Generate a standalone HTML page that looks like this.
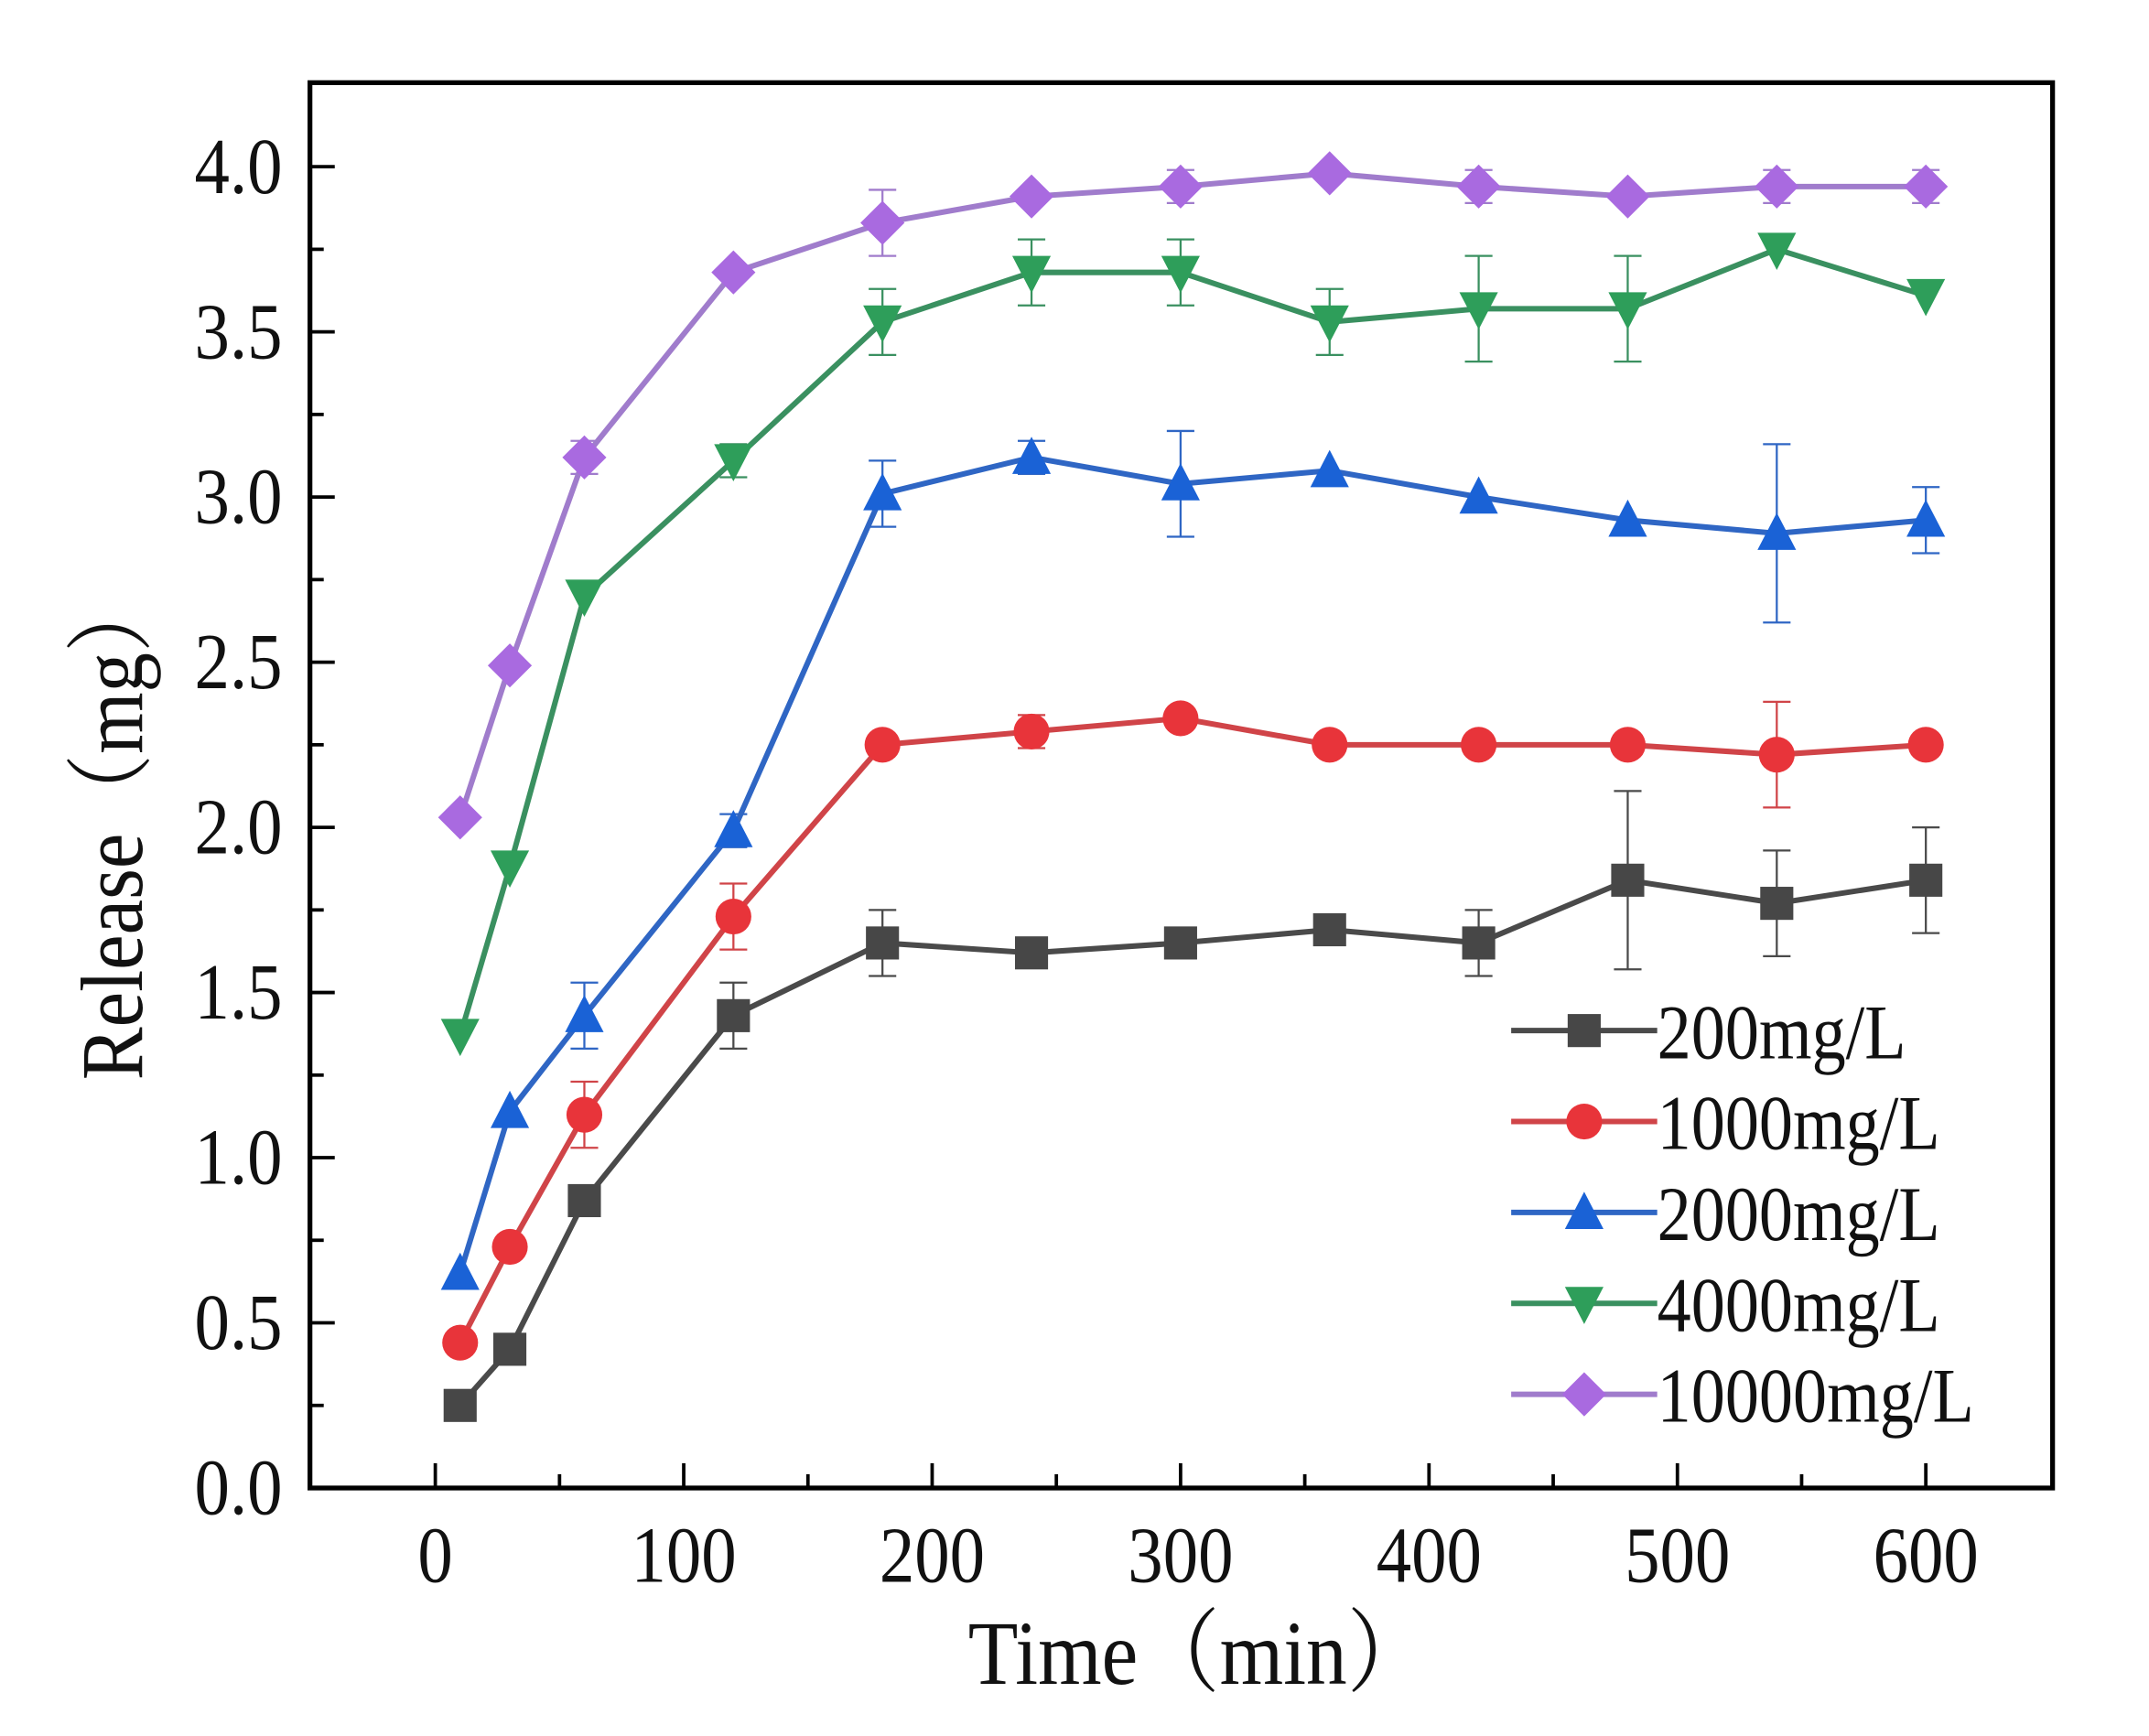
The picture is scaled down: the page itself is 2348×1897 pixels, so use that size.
<!DOCTYPE html>
<html><head><meta charset="utf-8"><style>html,body{margin:0;padding:0;background:#fff}svg{display:block}</style></head>
<body>
<svg id="s" xmlns="http://www.w3.org/2000/svg" width="2348" height="1897" viewBox="0 0 1560 1260" preserveAspectRatio="none" font-family="'Liberation Serif','Noto Serif CJK SC',serif">
<rect x="0" y="0" width="1560" height="1260" fill="#fff"/>
<g id="plot"></g>
<rect x="225" y="60" width="1265" height="1020" fill="none" stroke="#000" stroke-width="3.5"/>
<g id="axes" font-size="58" fill="#111"></g>
<g transform="translate(870,1222) scale(0.9,1)"><text x="0" y="0" font-size="66" text-anchor="middle" fill="#111">Time（min）</text></g>
<g transform="translate(103,600) rotate(-90) scale(0.9,1)"><text x="0" y="0" font-size="64" text-anchor="middle" fill="#111">Release（mg）</text></g>
<g id="leg" font-size="56" fill="#111"></g>
</svg>
<script>
var NS="http://www.w3.org/2000/svg";
function X(t){return 316+t*(1398-316)/600;}
function Y(v){return 1080-v*(1080-121)/4;}
function el(p,n,a,txt){var e=document.createElementNS(NS,n);for(var k in a)e.setAttribute(k,a[k]);if(txt!=null)e.textContent=txt;p.appendChild(e);return e;}
function tx(p,x,y,anchor,s){var g=el(p,'g',{transform:'translate('+x+','+y+') scale(0.88,1)'});el(g,'text',{x:0,y:0,'text-anchor':anchor},s);}
var ax=document.getElementById('axes');
for(var t=0;t<=600;t+=50){var maj=t%100==0;el(ax,'line',{x1:X(t),x2:X(t),y1:1080,y2:1080-(maj?18:10),stroke:'#000','stroke-width':2.5});if(maj)tx(ax,X(t),1148,'middle',String(t));}
for(var i=0;i<=16;i++){var v=i*0.25,maj=i%2==0;el(ax,'line',{x1:225,x2:225+(maj?18:10),y1:Y(v),y2:Y(v),stroke:'#000','stroke-width':2.5});if(maj)tx(ax,205,Y(v)+19,'end',v.toFixed(1));}
var xs=[10,30,60,120,180,240,300,360,420,480,540,600];
var S=[
{n:'200mg/L',c:'#474747',l:'#4a4a4a',m:'sq',y:[0.25,0.42,0.87,1.43,1.65,1.62,1.65,1.69,1.65,1.84,1.77,1.84],e:[0,0,0.03,0.1,0.1,0.03,0,0.03,0.1,0.27,0.16,0.16]},
{n:'1000mg/L',c:'#e8343a',l:'#d04448',m:'ci',y:[0.44,0.73,1.13,1.73,2.25,2.29,2.33,2.25,2.25,2.25,2.22,2.25],e:[0,0,0.1,0.1,0,0.05,0,0,0,0,0.16,0]},
{n:'2000mg/L',c:'#1a62d6',l:'#2f66c4',m:'up',y:[0.65,1.14,1.43,1.99,3.01,3.12,3.04,3.08,3.0,2.93,2.89,2.93],e:[0,0,0.1,0.05,0.1,0.05,0.16,0,0,0,0.27,0.1]},
{n:'4000mg/L',c:'#2e9e5a',l:'#3a9060',m:'dn',y:[1.37,1.88,2.70,3.11,3.53,3.68,3.68,3.53,3.57,3.57,3.75,3.61],e:[0,0,0,0.05,0.1,0.1,0.1,0.1,0.16,0.16,0,0]},
{n:'10000mg/L',c:'#a96ae0',l:'#a07ccc',m:'di',y:[2.03,2.49,3.12,3.68,3.83,3.91,3.94,3.98,3.94,3.91,3.94,3.94],e:[0,0,0.05,0,0.1,0,0.05,0,0.05,0,0.05,0.05]}];
function mk(g,m,x,y,c){var r=12;
 if(m=='sq')el(g,'rect',{x:x-r,y:y-r,width:2*r,height:2*r,fill:c});
 else if(m=='ci')el(g,'circle',{cx:x,cy:y,r:r+1,fill:c});
 else if(m=='up')el(g,'polygon',{points:(x)+','+(y-r-3)+' '+(x-r-2)+','+(y+r)+' '+(x+r+2)+','+(y+r),fill:c});
 else if(m=='dn')el(g,'polygon',{points:(x)+','+(y+r+3)+' '+(x-r-2)+','+(y-r)+' '+(x+r+2)+','+(y-r),fill:c});
 else el(g,'polygon',{points:x+','+(y-r-4)+' '+(x+r+4)+','+y+' '+x+','+(y+r+4)+' '+(x-r-4)+','+y,fill:c});}
var pl=document.getElementById('plot');
S.forEach(function(s){
 var pts=xs.map(function(t,i){return X(t)+','+Y(s.y[i]);}).join(' ');
 el(pl,'polyline',{points:pts,fill:'none',stroke:s.l,'stroke-width':4});
 xs.forEach(function(t,i){if(s.e[i]>0){var x=X(t),a=Y(s.y[i]+s.e[i]),b=Y(s.y[i]-s.e[i]);
  el(pl,'line',{x1:x,x2:x,y1:a,y2:b,stroke:s.l,'stroke-width':1.5});
  el(pl,'line',{x1:x-10,x2:x+10,y1:a,y2:a,stroke:s.l,'stroke-width':1.5});
  el(pl,'line',{x1:x-10,x2:x+10,y1:b,y2:b,stroke:s.l,'stroke-width':1.5});}});
 xs.forEach(function(t,i){mk(pl,s.m,X(t),Y(s.y[i]),s.c);});
});
var lg=document.getElementById('leg');
S.forEach(function(s,i){var y=748+i*66;
 el(lg,'line',{x1:1097,x2:1203,y1:y,y2:y,stroke:s.l,'stroke-width':4});
 mk(lg,s.m,1150,y,s.c);
 tx(lg,1203,y+20,'start',s.n);});
</script>
</body></html>
